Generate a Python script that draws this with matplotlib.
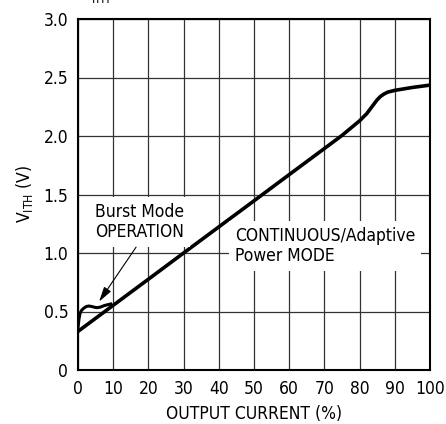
import matplotlib
matplotlib.use("Agg")
import matplotlib.pyplot as plt
from matplotlib import font_manager

# pick a narrow sans face if one is installed (reference uses a condensed font)
font_files = font_manager.fontManager.ttflist
narrow = [f for f in font_files
          if ("Narrow" in f.name or "Condensed" in f.name
              or str(f.stretch) in ("condensed", "semi-condensed", "extra-condensed", "75", "87.5"))
          and f.style == "normal" and f.weight in (400, "normal", "regular")]
if narrow:
    fp = font_manager.FontProperties(fname=narrow[0].fname)
    size = 12.5
else:
    fp = font_manager.FontProperties(family="Liberation Sans")
    size = 11

# main curve (continuous / adaptive power mode)
main_x = [0, 10, 20, 30, 40, 50, 60, 70, 75, 80, 82, 83, 84, 85, 86, 87, 88, 90, 95, 100]
main_y = [0.33, 0.553, 0.776, 1.0, 1.223, 1.446, 1.67, 1.893, 2.005, 2.13, 2.19, 2.23, 2.27, 2.31, 2.34, 2.36, 2.375, 2.39, 2.415, 2.435]

# burst mode branch at light load
burst_x = [0, 0.3, 0.6, 1.0, 1.7, 2.4, 3.1, 4.0, 5.0, 5.5, 6.3, 7.4, 8.4, 9.3]
burst_y = [0.36, 0.44, 0.485, 0.51, 0.53, 0.543, 0.547, 0.542, 0.534, 0.533, 0.537, 0.55, 0.558, 0.564]

x_ticks = [0, 10, 20, 30, 40, 50, 60, 70, 80, 90, 100]
y_ticks = [0, 0.5, 1.0, 1.5, 2.0, 2.5, 3.0]
y_labels = ["0", "0.5", "1.0", "1.5", "2.0", "2.5", "3.0"]

fig = plt.figure(figsize=(4.46, 4.24), dpi=100)
ax = fig.add_axes([78 / 446, 54 / 424, 352 / 446, 351 / 424])

ax.plot(main_x, main_y, color="black", linewidth=2.6, solid_capstyle="butt", zorder=3)
ax.plot(burst_x, burst_y, color="black", linewidth=2.2, zorder=3)

ax.set_xlim(0, 100)
ax.set_ylim(0, 3.0)
ax.set_xticks(x_ticks)
ax.set_xticklabels([str(v) for v in x_ticks], fontproperties=fp, fontsize=size)
ax.set_yticks(y_ticks)
ax.set_yticklabels(y_labels, fontproperties=fp, fontsize=size)
ax.tick_params(length=0, pad=7)
ax.grid(True, color="#333333", linewidth=0.9)
ax.set_axisbelow(True)
for s in ax.spines.values():
    s.set_linewidth(1.5)

ax.set_xlabel("OUTPUT CURRENT (%)", fontproperties=fp, fontsize=size, labelpad=5)
ax.set_ylabel("V$_{\\mathregular{ITH}}$ (V)", fontproperties=fp, fontsize=size, labelpad=6)

ax.text(44.6, 1.225, "CONTINUOUS/Adaptive\nPower MODE", fontproperties=fp, fontsize=size,
        ha="left", va="top", linespacing=1.15, zorder=6,
        bbox=dict(boxstyle="square,pad=0.35", facecolor="white", edgecolor="none"))
ax.text(4.8, 1.43, "Burst Mode\nOPERATION", fontproperties=fp, fontsize=size,
        ha="left", va="top", linespacing=1.15, zorder=6,
        bbox=dict(boxstyle="square,pad=0.35", facecolor="white", edgecolor="none"))
ax.annotate("", xy=(6.0, 0.585), xytext=(16.5, 1.05),
            arrowprops=dict(arrowstyle="-|>,head_length=0.9,head_width=0.25",
                            color="black", linewidth=0.8, shrinkA=0, shrinkB=0),
            zorder=7)

# title remnant cut off at the top edge
fig.text(92 / 446, 421 / 424, "ITH", fontproperties=fp, fontsize=9, ha="left", va="baseline")

fig.savefig("out.png", dpi=100)
